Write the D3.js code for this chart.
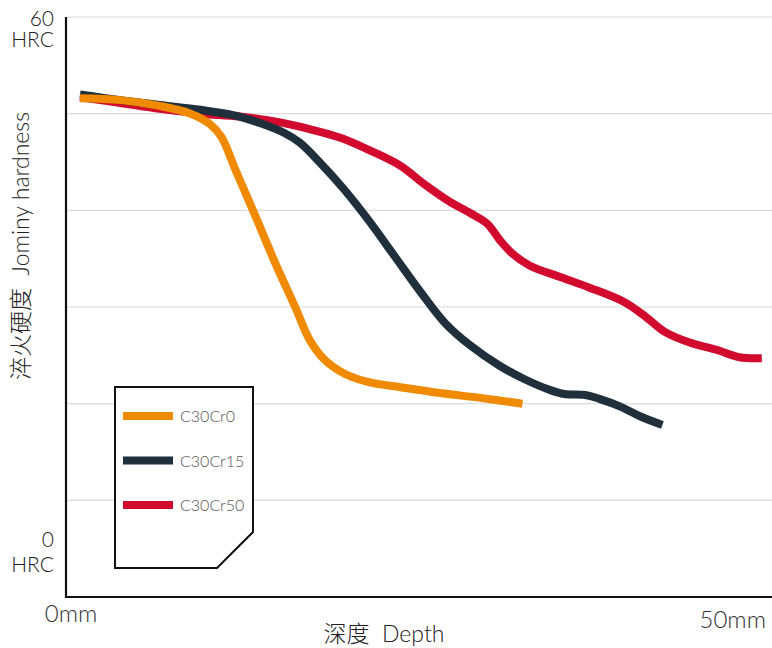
<!DOCTYPE html>
<html><head><meta charset="utf-8">
<script src="https://cdn.jsdelivr.net/npm/d3@7"></script>
<style>body{margin:0;background:#fff}svg{display:block}text{font-family:Lato,"Noto Sans CJK SC",sans-serif}</style>
</head><body><svg id="c" width="772" height="648"></svg>
<script>
const seriesNames = ["C30Cr0", "C30Cr15", "C30Cr50"];
const seriesColors = ["#F08A00", "#1F2F3C", "#D20A2E"];
const depthCr0 = [1.0,3.9,6.7,8.9,10.3,11.1,12.1,13.5,14.9,16.4,17.4,18.5,19.9,21.7,23.9,26.7,29.6,32.6];
const hrcCr0 =   [51.6,51.4,50.8,50.0,48.9,47.6,44.2,39.5,34.7,29.9,26.6,24.5,23.1,22.2,21.7,21.1,20.6,20.0];
const depthCr15 = [1.0,3.9,6.7,9.6,12.1,13.9,15.6,16.7,18.1,19.9,21.7,23.5,25.3,27.1,28.9,31.0,32.8,34.6,35.6,37.1,38.1,39.6,41.0,42.6];
const hrcCr15 =   [52.0,51.4,50.9,50.4,49.8,49.0,48.0,47.0,45.0,42.1,38.8,35.2,31.6,28.3,26.0,23.9,22.5,21.4,21.0,20.9,20.5,19.7,18.7,17.8];
const depthCr50 = [1.0,3.9,6.7,9.6,12.4,15.3,17.4,19.6,21.7,23.9,25.6,27.4,28.9,30.1,31.0,31.9,33.1,35.3,37.4,39.9,41.4,42.8,44.6,46.4,48.1,49.7];
const hrcCr50 =   [51.7,51.1,50.5,50.0,49.7,49.1,48.4,47.5,46.2,44.6,42.7,40.9,39.7,38.6,36.9,35.5,34.3,33.1,32.0,30.5,29.0,27.4,26.3,25.6,24.8,24.7];
const yTicks = [0,10,20,30,40,50,60];

const svg = d3.select("#c");
const x = d3.scaleLinear().domain([0,50]).range([66,766]);
const y = d3.scaleLinear().domain([0,60]).range([597,17]);

// gridlines
svg.append("g").selectAll("line").data(yTicks.filter(d=>d>0)).join("line")
  .attr("x1",66).attr("x2",772).attr("y1",d=>y(d)).attr("y2",d=>y(d))
  .attr("stroke","#dcdcdc").attr("stroke-width",1.2);

// axes
svg.append("line").attr("x1",66).attr("x2",66).attr("y1",y(60)).attr("y2",y(0)+1).attr("stroke","#111").attr("stroke-width",2.2);
svg.append("line").attr("x1",65).attr("x2",772).attr("y1",y(0)).attr("y2",y(0)).attr("stroke","#111").attr("stroke-width",2.2);

// axis text
const tc = "#222";
function t(xp, yp, s, fs, anchor, col){
  return svg.append("text").attr("x",xp).attr("y",yp).attr("text-anchor",anchor).attr("font-size",fs)
    .attr("font-weight",300).attr("fill",col||tc).text(s);
}
t(54,26,"60",21,"end");
t(54,47,"HRC",21,"end");
t(54,547,"0",21,"end");
t(54,572,"HRC",21,"end");
t(71,622,"0mm",24,"middle","#333");
t(766,628,"50mm",24,"end","#333");
t(384,642,"深度  Depth",23,"middle").attr("xml:space","preserve");
svg.append("text").attr("transform","translate(29,246) rotate(-90)").attr("text-anchor","middle").attr("font-size",23).attr("font-weight",300).attr("fill",tc).attr("xml:space","preserve").text("淬火硬度  Jominy hardness");

// lines
const line = d3.line().x(d=>x(d[0])).y(d=>y(d[1])).curve(d3.curveCatmullRom.alpha(0.5));
const data = [
  d3.zip(depthCr0,hrcCr0),
  d3.zip(depthCr15,hrcCr15),
  d3.zip(depthCr50,hrcCr50)
];
[2,1,0].forEach(i=>{
  svg.append("path").attr("d",line(data[i])).attr("fill","none")
    .attr("stroke",seriesColors[i]).attr("stroke-width",8).attr("stroke-linejoin","round");
});

// legend box
svg.append("path").attr("d","M115,387 L253,387 L253,532 L217,568 L115,568 Z")
  .attr("fill","#fff").attr("stroke","#111").attr("stroke-width",2);
seriesNames.forEach((n,i)=>{
  const ly = 416 + i*44.5;
  svg.append("line").attr("x1",123).attr("x2",173).attr("y1",ly).attr("y2",ly)
    .attr("stroke",seriesColors[i]).attr("stroke-width",8);
  t(180, ly+6, n, 16, "start", "#555");
});
</script></body></html>
